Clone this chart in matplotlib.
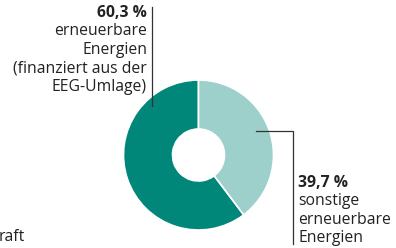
import matplotlib.pyplot as plt

shares = [60.3, 39.7]
share_labels = ['60,3 %', '39,7 %']
texts = ['erneuerbare\nEnergien\n(finanziert aus der\nEEG-Umlage)',
         'sonstige\nerneuerbare\nEnergien']
colors = ['#00877a', '#9dd0ca']

plt.rcParams['font.family'] = ['Open Sans', 'DejaVu Sans']

fig = plt.figure(figsize=(3.96, 2.48), dpi=100)
ax = fig.add_axes([0, 0, 1, 1])

# donut, pixel coordinates (y up)
ax.pie(shares, colors=colors, startangle=90, counterclock=True,
       center=(198.5, 93), radius=75, frame=True,
       wedgeprops=dict(width=49, edgecolor='white', linewidth=1.2))
ax.set_xlim(0, 396)
ax.set_ylim(0, 248)
ax.set_aspect('equal')
ax.axis('off')

tc = '#222222'
lc = '#333333'
fs = 11.3

# left label
ax.plot([152, 152], [241, 142], color=lc, lw=0.9)
ax.text(147, 235, share_labels[0], ha='right', va='center', fontsize=fs,
        fontweight='bold', color=tc)
ax.text(147, 225, texts[0], ha='right', va='top', fontsize=fs,
        color=tc, linespacing=1.22)

# right label
ax.plot([256, 293, 293], [117, 117, 4], color=lc, lw=0.9)
ax.text(298, 65, share_labels[1], ha='left', va='center', fontsize=fs,
        fontweight='bold', color=tc)
ax.text(298, 55, texts[1], ha='left', va='top', fontsize=fs,
        color=tc, linespacing=1.22)

ax.text(-1, 11, 'raft', ha='left', va='center', fontsize=fs, color=tc)

fig.savefig('out.png', dpi=100)
